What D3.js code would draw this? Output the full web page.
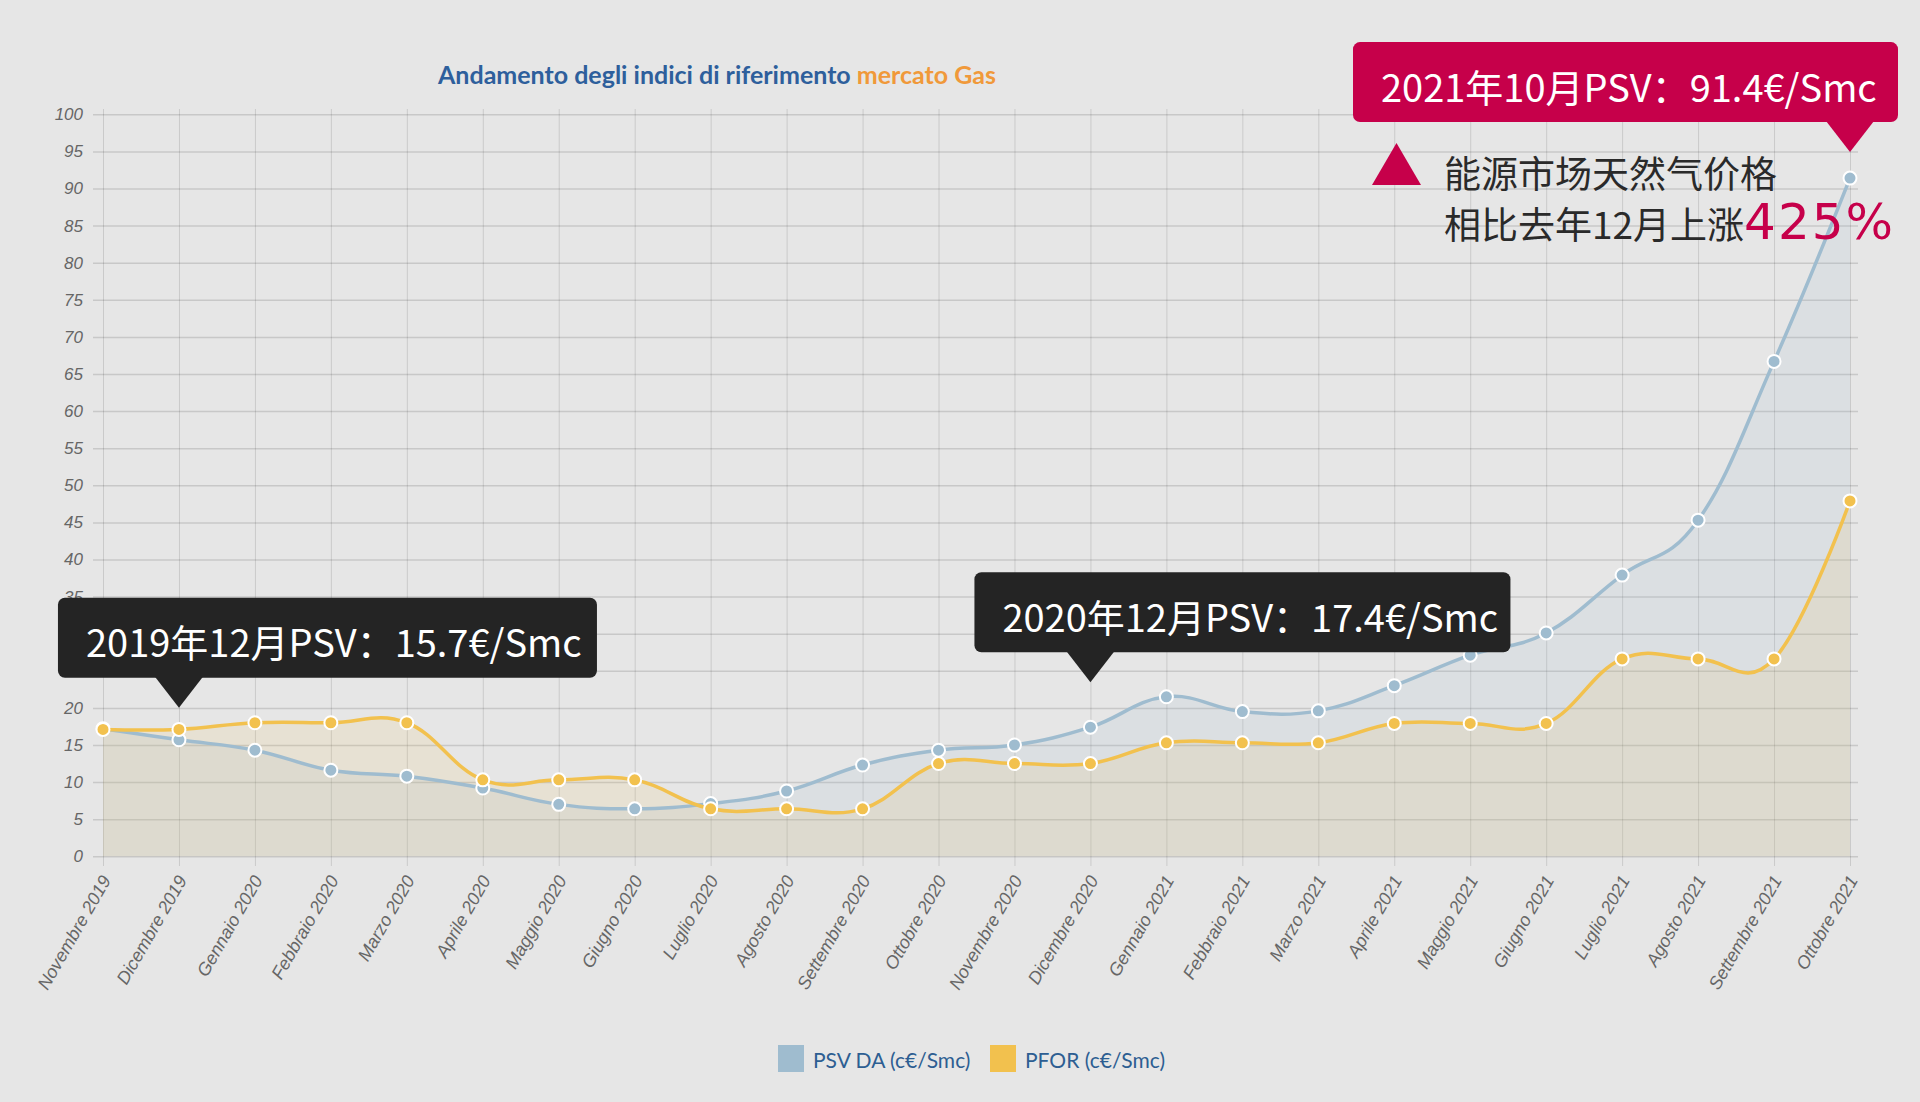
<!DOCTYPE html>
<html>
<head>
<meta charset="utf-8">
<script src="https://cdn.jsdelivr.net/npm/d3@7"></script>
<style>
  html, body { margin: 0; padding: 0; background: #e6e6e6; }
  svg { display: block; }
</style>
</head>
<body>
<div id="chart"></div>
<script>
const months = ["Novembre 2019","Dicembre 2019","Gennaio 2020","Febbraio 2020","Marzo 2020","Aprile 2020",
  "Maggio 2020","Giugno 2020","Luglio 2020","Agosto 2020","Settembre 2020","Ottobre 2020",
  "Novembre 2020","Dicembre 2020","Gennaio 2021","Febbraio 2021","Marzo 2021","Aprile 2021",
  "Maggio 2021","Giugno 2021","Luglio 2021","Agosto 2021","Settembre 2021","Ottobre 2021"];

const psvValues = [17.2, 15.7, 14.3, 11.6, 10.8, 9.2, 7.0, 6.4, 7.1, 8.8, 12.3, 14.3,
  15.0, 17.4, 21.5, 19.5, 19.6, 23.0, 27.1, 30.1, 37.9, 45.3, 66.7, 91.4];

const pforValues = [17.1, 17.1, 18.0, 18.0, 18.0, 10.3, 10.3, 10.3, 6.4, 6.4, 6.4, 12.5,
  12.5, 12.5, 15.3, 15.3, 15.3, 17.9, 17.9, 17.9, 26.6, 26.6, 26.6, 47.9];

const yTicks = [0,5,10,15,20,25,30,35,40,45,50,55,60,65,70,75,80,85,90,95,100];

const seriesNames = ["PSV DA (c€/Smc)", "PFOR (c€/Smc)"];

// callouts: text, month index
const calloutTexts = ["2019年12月PSV：15.7€/Smc", "2020年12月PSV：17.4€/Smc", "2021年10月PSV：91.4€/Smc"];
const calloutIndex = [1, 13, 23];

const noteLines = ["能源市场天然气价格", "相比去年12月上涨"];
const notePct = "425%";

const W = 1920, H = 1102;
const blue = "#9fbccf", yellow = "#f2c14e";

const svg = d3.select("#chart").append("svg")
    .attr("width", W)
    .attr("height", H);

svg.append("rect").attr("width", W).attr("height", H).attr("fill", "#e6e6e6");

const x = d3.scalePoint().domain(months).range([103, 1850]);
const y = d3.scaleLinear().domain([0, 100]).range([856.3, 114.3]);

// title
const title = svg.append("text")
    .attr("x", 438).attr("y", 84)
    .style("font-family", "Lato, sans-serif")
    .style("font-weight", "bold")
    .style("font-size", "25px");
title.append("tspan").attr("fill", "#2e5f9c").text("Andamento degli indici di riferimento ");
title.append("tspan").attr("fill", "#f0993a").text("mercato Gas");

// y grid + labels
const yAxis = svg.append("g")
    .attr("transform", "translate(93,0)")
    .call(d3.axisLeft(y).tickValues(yTicks).tickSize(-(1858 - 93)).tickPadding(10));
yAxis.select(".domain").remove();
yAxis.selectAll("line").attr("stroke", "rgba(0,0,0,0.13)").attr("stroke-width", 1.5);
yAxis.selectAll("text")
    .attr("fill", "#666")
    .style("font-family", "'Liberation Sans', Arial, sans-serif")
    .style("font-style", "italic")
    .style("font-size", "17px");

// x grid + labels
const xAxis = svg.append("g")
    .attr("transform", "translate(0,866)")
    .call(d3.axisBottom(x).tickSize(-(866 - 109)).tickFormat(""));
xAxis.select(".domain").remove();
xAxis.selectAll("line").attr("stroke", "rgba(0,0,0,0.12)").attr("stroke-width", 1);

svg.append("g").selectAll("text")
    .data(months)
    .join("text")
    .attr("transform", d => `translate(${x(d) + 3},${877}) rotate(-60)`)
    .attr("text-anchor", "end")
    .attr("dy", "0.35em")
    .attr("fill", "#666")
    .style("font-family", "'Liberation Sans', Arial, sans-serif")
    .style("font-style", "italic")
    .style("font-size", "18px")
    .text(d => d);

const curve = d3.curveCardinal.tension(-0.2);

const area = vals => d3.area()
    .x((d, i) => x(months[i]))
    .y0(y(0))
    .y1(d => y(d))
    .curve(curve)(vals);

const line = vals => d3.line()
    .x((d, i) => x(months[i]))
    .y(d => y(d))
    .curve(curve)(vals);

const series = [
  { values: psvValues, color: blue, fill: "rgba(159,188,207,0.16)" },
  { values: pforValues, color: yellow, fill: "rgba(242,193,78,0.12)" }
];

series.forEach(s => {
  svg.append("path").attr("d", area(s.values)).attr("fill", s.fill);
});
series.forEach(s => {
  svg.append("path")
      .attr("d", line(s.values))
      .attr("fill", "none")
      .attr("stroke", s.color)
      .attr("stroke-width", 3.5);
  svg.append("g").selectAll("circle")
      .data(s.values)
      .join("circle")
      .attr("cx", (d, i) => x(months[i]))
      .attr("cy", d => y(d))
      .attr("r", 6.5)
      .attr("fill", s.color)
      .attr("stroke", "#fff")
      .attr("stroke-width", 2);
});

// callouts
const calloutLayout = [
  { dx: -121, w: 539, gap: 32, fill: "#242424" },
  { dx: -116, w: 536, gap: 45, fill: "#242424" },
  { dx: -497, w: 545, gap: 26, fill: "#c6004a" }
];
const boxH = 80, triH = 30, triHalf = 24;

calloutTexts.forEach((t, k) => {
  const L = calloutLayout[k];
  const px = x(months[calloutIndex[k]]);
  const py = y(psvValues[calloutIndex[k]]);
  const tipY = py - L.gap;
  const boxBottom = tipY - triH;
  const boxTop = boxBottom - boxH;
  const g = svg.append("g");
  g.append("rect")
      .attr("x", px + L.dx).attr("y", boxTop)
      .attr("width", L.w).attr("height", boxH)
      .attr("rx", 7)
      .attr("fill", L.fill);
  g.append("path")
      .attr("d", `M${px - triHalf},${boxBottom - 1}L${px + triHalf},${boxBottom - 1}L${px},${tipY}Z`)
      .attr("fill", L.fill);
  g.append("text")
      .attr("x", px + L.dx + 28)
      .attr("y", boxTop + boxH / 2 + 3)
      .attr("dominant-baseline", "central")
      .attr("fill", "#fff")
      .style("font-family", "'Noto Sans CJK SC', sans-serif")
      .style("font-size", "38px")
      .text(t);
});

// note
svg.append("path")
    .attr("d", "M1372,185L1421,185L1396.5,143Z")
    .attr("fill", "#c6004a");
svg.append("text")
    .attr("x", 1444).attr("y", 172)
    .attr("dominant-baseline", "central")
    .attr("fill", "#2a2a2a")
    .style("font-family", "'Noto Sans CJK SC', sans-serif")
    .style("font-size", "37px")
    .text(noteLines[0]);
const note2 = svg.append("text")
    .attr("x", 1444).attr("y", 239)
    .attr("fill", "#2a2a2a")
    .style("font-family", "'Noto Sans CJK SC', sans-serif")
    .style("font-size", "37px");
note2.append("tspan").text(noteLines[1]);
note2.append("tspan")
    .attr("fill", "#c6004a")
    .style("font-family", "'DejaVu Sans', sans-serif")
    .style("font-size", "50px")
    .style("letter-spacing", "2px")
    .text(notePct);

// legend
const legendX = [778, 990];
const legendColors = [blue, yellow];
seriesNames.forEach((n, i) => {
  svg.append("rect")
      .attr("x", legendX[i]).attr("y", 1045)
      .attr("width", 26).attr("height", 27)
      .attr("fill", legendColors[i]);
  svg.append("text")
      .attr("x", legendX[i] + 35).attr("y", 1059)
      .attr("dominant-baseline", "central")
      .attr("fill", "#2d5e92")
      .style("font-family", "Lato, sans-serif")
      .style("font-size", "21px")
      .text(n);
});
</script>
</body>
</html>
